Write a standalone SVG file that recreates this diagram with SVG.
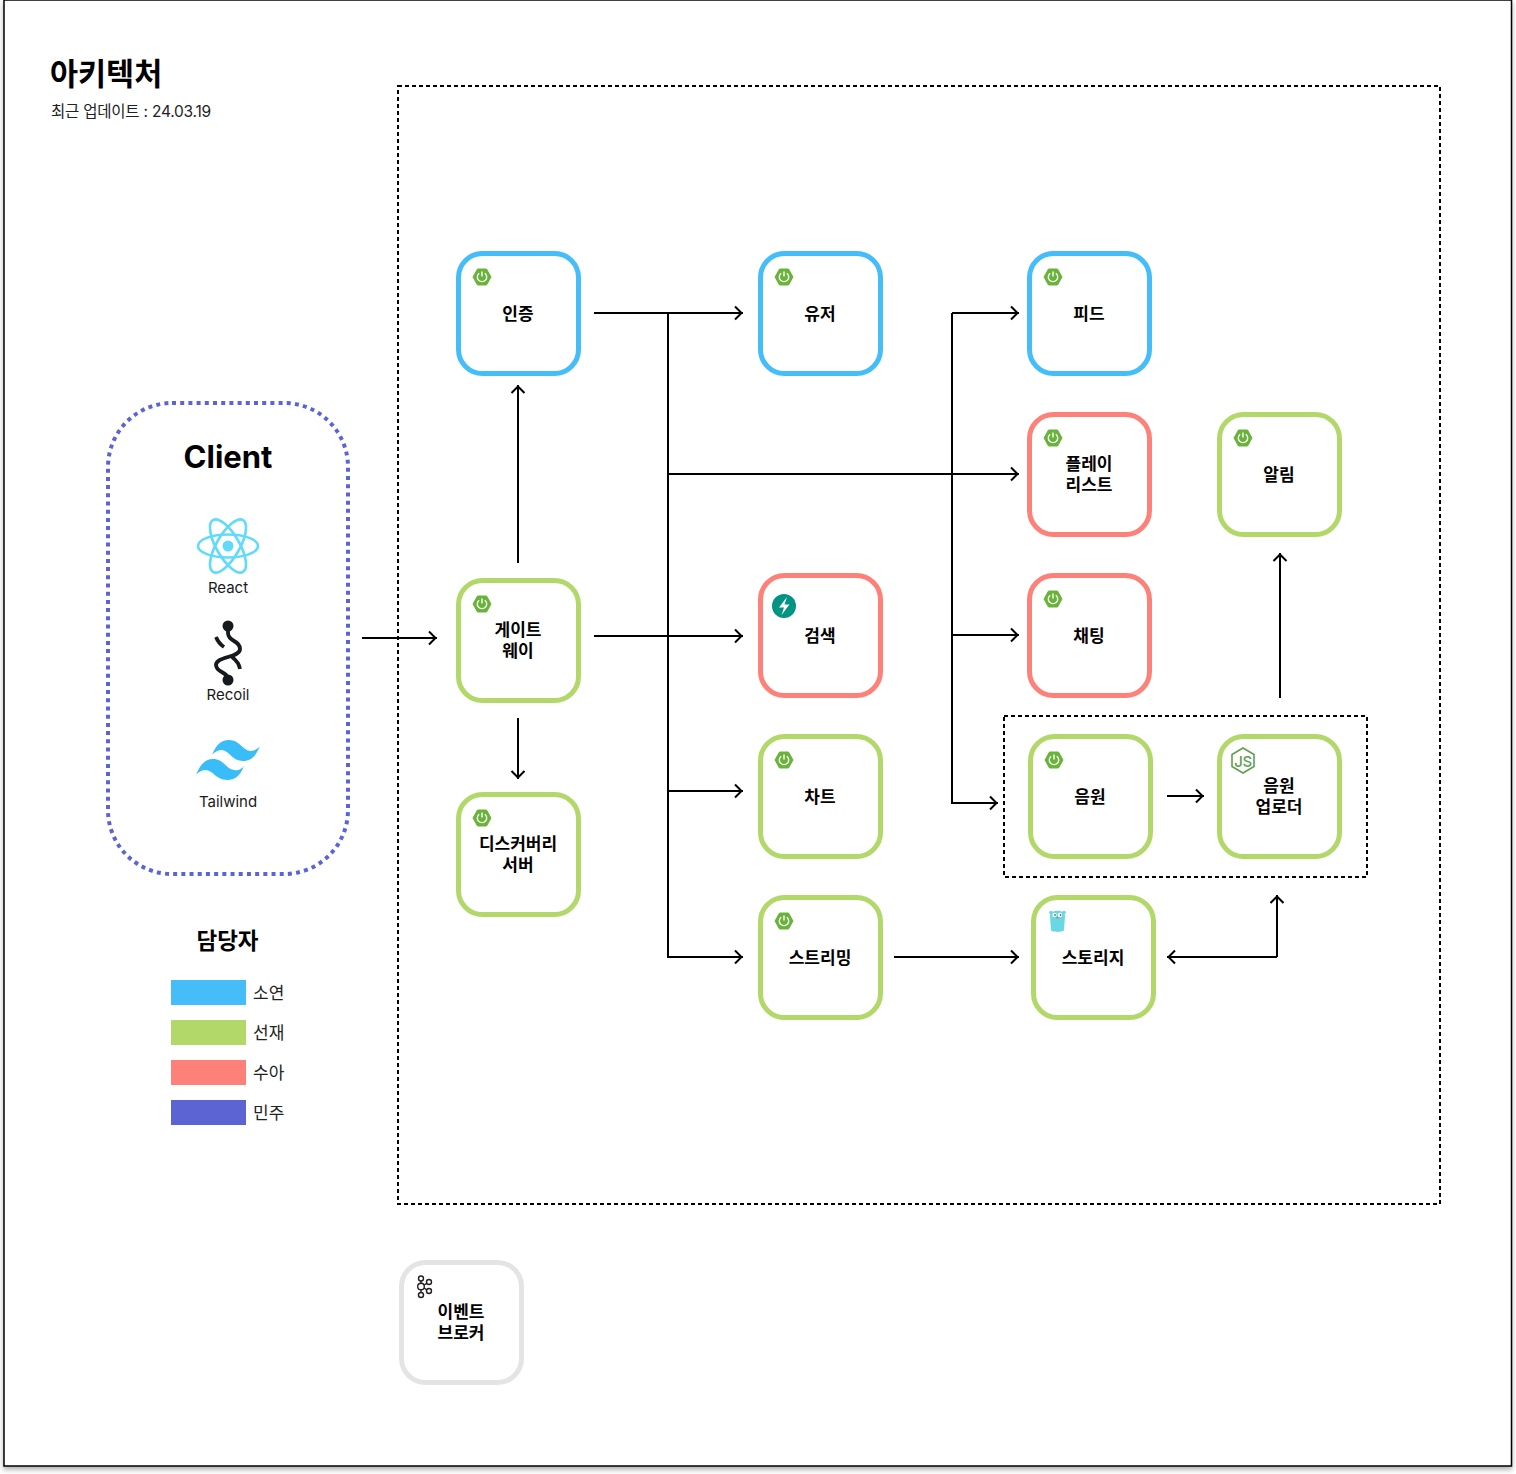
<svg xmlns="http://www.w3.org/2000/svg" width="1516" height="1474" viewBox="0 0 1516 1474">
<style>
text{font-family:Inter,"Noto Sans CJK KR",sans-serif;fill:#000}
.t{font-size:17px;font-weight:600;text-anchor:middle}
.s{font-size:15px;font-weight:400;text-anchor:middle;fill:#1a1a1a}
.l{font-size:17px;font-weight:400;fill:#222}
.n{fill:#fff;stroke-width:5}
.b{stroke:#45bdf8}.g{stroke:#b2d86a}.r{stroke:#fd8179}.e{stroke:#e4e4e4}
.c path{fill:none;stroke:#000;stroke-width:2;marker-end:url(#a)}
.d{fill:none;stroke:#000;stroke-width:2;stroke-dasharray:4 3}
</style>
<defs>
<marker id="a" markerUnits="userSpaceOnUse" markerWidth="14" markerHeight="18" refX="11.500" refY="8" orient="auto"><path d="M3.500 1.500 10 8 3.500 14.500" fill="none" stroke="#000" stroke-width="2"/></marker>
<filter id="sh" x="-2%" y="-2%" width="104%" height="104%"><feDropShadow dx="0" dy="3" stdDeviation="2.500" flood-color="#000" flood-opacity=".3"/></filter>
<g id="sp"><path d="M-4.500-8H4.500L9 0 4.500 8H-4.500L-9 0Z" fill="#69b33a" stroke="#69b33a" stroke-linejoin="round"/><path d="M-2.800-3.800A4.700 4.700 0 1 0 2.800-3.800" fill="none" stroke="#fff" stroke-width="1.400"/><path d="M0-5.500V-.5" stroke="#fff" stroke-width="1.400"/></g>
</defs>
<rect width="1516" height="1474" fill="#fff"/>
<rect x="4" y="0" width="1507.500" height="1466" fill="#fff" stroke="#000" stroke-width="1.500" filter="url(#sh)"/>
<text x="50" y="85" style="font-size:30.500px;font-weight:700">아키텍처</text>
<text x="51" y="117" style="font-size:15.500px;letter-spacing:-.22px;fill:#222">최근 업데이트 : 24.03.19</text>
<rect class="d" x="398" y="86" width="1042" height="1118"/>
<rect class="d" x="1004" y="716" width="363" height="161"/>
<g id="client">
<rect x="108" y="403" width="240" height="471" rx="64" fill="none" stroke="#5c64d4" stroke-width="4" stroke-dasharray="4 4.200"/>
<text x="228" y="468" style="font-size:31px;font-weight:700;text-anchor:middle">Client</text>
<g fill="none" stroke="#61dafb" stroke-width="2.600"><ellipse cx="228" cy="546" rx="30" ry="11.500"/><ellipse cx="228" cy="546" rx="30" ry="11.500" transform="rotate(60 228 546)"/><ellipse cx="228" cy="546" rx="30" ry="11.500" transform="rotate(120 228 546)"/></g><circle cx="228" cy="546" r="5.500" fill="#61dafb"/>
<text class="s" x="228" y="593">React</text>
<g fill="none" stroke="#16191d" stroke-width="3.800"><path d="M228 626V633C228 642 240 640 240 649 240 658 216 656 216 665 216 673 228 671 228 680"/><path d="M216 637C218 642 221 645 224 647M240 669C239 663 236 660 232 657"/></g><circle cx="228" cy="626" r="5.500" fill="#16191d"/><circle cx="228" cy="680" r="5.500" fill="#16191d"/>
<text class="s" x="228" y="700">Recoil</text>
<path d="M212 755C216 745 221 740 229 740 240 740 242 750 250 751 254 751 258 749 260 746 256 756 251 761 243 761 232 761 230 751 222 750 218 750 214 752 212 755ZM196 775C200 765 205 759 213 759 224 759 226 769 234 770 238 771 242 769 244 766 240 776 235 780 227 780 216 780 214 771 206 770 202 770 198 772 196 775Z" fill="#38bdf8"/>
<text class="s" x="228" y="807">Tailwind</text>
</g>
<g id="legend">
<text x="227.500" y="949" style="font-size:22.500px;font-weight:600;text-anchor:middle">담당자</text>
<rect x="171" y="980" width="75" height="25" fill="#45bdf8"/><text class="l" x="253" y="999">소연</text>
<rect x="171" y="1020" width="75" height="25" fill="#b2d86a"/><text class="l" x="253" y="1039">선재</text>
<rect x="171" y="1060" width="75" height="25" fill="#fd8179"/><text class="l" x="253" y="1079">수아</text>
<rect x="171" y="1100" width="75" height="25" fill="#5c64d4"/><text class="l" x="253" y="1119">민주</text>
</g>
<g class="c" id="connectors">
<path d="M362 638H437"/>
<path d="M518 563V385"/>
<path d="M518 718V779"/>
<path d="M594 313H743"/>
<path d="M668 313V957H743"/>
<path d="M594 636H743"/>
<path d="M668 474H1019"/>
<path d="M668 791H743"/>
<path d="M952 313H1019"/>
<path d="M952 313V803H998"/>
<path d="M952 635H1019"/>
<path d="M1167 796H1204"/>
<path d="M1280 698V553"/>
<path d="M894 957H1019"/>
<path d="M1277 957H1167"/>
<path d="M1277 957V895"/>
</g>
<g id="n-auth"><rect class="n b" x="458.500" y="253.500" width="120" height="120" rx="24"/><use href="#sp" x="482" y="277"/><text class="t" x="518" y="320">인증</text></g>
<g id="n-user"><rect class="n b" x="760.500" y="253.500" width="120" height="120" rx="24"/><use href="#sp" x="784" y="277"/><text class="t" x="820" y="320">유저</text></g>
<g id="n-feed"><rect class="n b" x="1029.500" y="253.500" width="120" height="120" rx="24"/><use href="#sp" x="1053" y="277"/><text class="t" x="1089" y="320">피드</text></g>
<g id="n-playlist"><rect class="n r" x="1029.500" y="414.500" width="120" height="120" rx="24"/><use href="#sp" x="1053" y="438"/><text class="t" x="1089" y="470">플레이</text><text class="t" x="1089" y="491">리스트</text></g>
<g id="n-alarm"><rect class="n g" x="1219.500" y="414.500" width="120" height="120" rx="24"/><use href="#sp" x="1243" y="438"/><text class="t" x="1279" y="481">알림</text></g>
<g id="n-gateway"><rect class="n g" x="458.500" y="580.500" width="120" height="120" rx="24"/><use href="#sp" x="482" y="604"/><text class="t" x="518" y="636">게이트</text><text class="t" x="518" y="657">웨이</text></g>
<g id="n-search"><rect class="n r" x="760.500" y="575.500" width="120" height="120" rx="24"/><circle cx="784" cy="606" r="12" fill="#009485"/><path d="M787 597 779 607.500H784L781.500 615 789.500 604.500H784.500Z" fill="#fff"/><text class="t" x="820" y="642">검색</text></g>
<g id="n-chat"><rect class="n r" x="1029.500" y="575.500" width="120" height="120" rx="24"/><use href="#sp" x="1053" y="599"/><text class="t" x="1089" y="642">채팅</text></g>
<g id="n-discovery"><rect class="n g" x="458.500" y="794.500" width="120" height="120" rx="24"/><use href="#sp" x="482" y="818"/><text class="t" x="518" y="850">디스커버리</text><text class="t" x="518" y="871">서버</text></g>
<g id="n-chart"><rect class="n g" x="760.500" y="736.500" width="120" height="120" rx="24"/><use href="#sp" x="784" y="760"/><text class="t" x="820" y="803">차트</text></g>
<g id="n-music"><rect class="n g" x="1030.500" y="736.500" width="120" height="120" rx="24"/><use href="#sp" x="1054" y="760"/><text class="t" x="1090" y="803">음원</text></g>
<g id="n-uploader"><rect class="n g" x="1219.500" y="736.500" width="120" height="120" rx="24"/><path d="M1243 748 1254 754.500V766.500L1243 773 1232 766.500V754.500Z" fill="#fff" stroke="#5fa04e" stroke-width="1.600"/><text x="1243" y="766.500" style="font-size:15px;font-weight:500;text-anchor:middle;fill:#5fa04e;letter-spacing:-.5px">JS</text><text class="t" x="1279" y="792">음원</text><text class="t" x="1279" y="813">업로더</text></g>
<g id="n-streaming"><rect class="n g" x="760.500" y="897.500" width="120" height="120" rx="24"/><use href="#sp" x="784" y="921"/><text class="t" x="820" y="964">스트리밍</text></g>
<g id="n-storage"><rect class="n g" x="1033.500" y="897.500" width="120" height="120" rx="24"/><path d="M1050 916C1050 909 1065 909 1065 916L1064 930C1064 932.500 1051 932.500 1051 930Z" fill="#6ad7e5"/><circle cx="1051" cy="912.500" r="1.800" fill="#6ad7e5"/><circle cx="1064" cy="912.500" r="1.800" fill="#6ad7e5"/><circle cx="1054.500" cy="915" r="2.200" fill="#fff"/><circle cx="1060" cy="915" r="2.200" fill="#fff"/><circle cx="1055" cy="915" r=".8" fill="#222"/><circle cx="1060.500" cy="915" r=".8" fill="#222"/><rect x="1056.500" y="917" width="2" height="1.500" fill="#b08050"/><text class="t" x="1093" y="964">스토리지</text></g>
<g id="n-broker"><rect class="n e" x="401.500" y="1262.500" width="120" height="120" rx="24"/><g fill="none" stroke="#231f20" stroke-width="1.400"><circle cx="421" cy="1278.500" r="2.500"/><circle cx="421" cy="1295" r="2.500"/><circle cx="421" cy="1286.500" r="3.300"/><circle cx="429" cy="1282" r="2.500"/><circle cx="429" cy="1291" r="2.500"/><path d="M421 1281V1283.200M421 1289.800V1292.500M424 1285 426.800 1283.300M424 1288 426.800 1289.800"/></g><text class="t" x="461" y="1318">이벤트</text><text class="t" x="461" y="1339">브로커</text></g>
</svg>
